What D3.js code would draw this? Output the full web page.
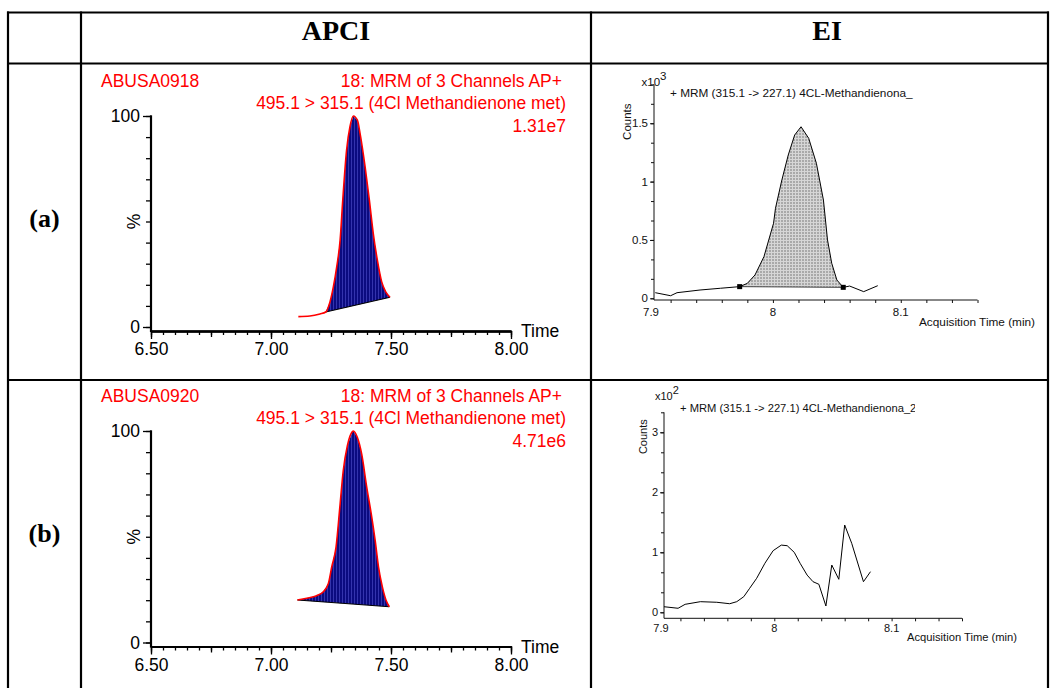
<!DOCTYPE html>
<html><head><meta charset="utf-8">
<script src="https://cdn.jsdelivr.net/npm/d3@7"></script>
<style>
body{margin:0;background:#fff}
svg{display:block}
text{font-family:"Liberation Sans",Arial,Helvetica,sans-serif}
</style>
</head><body>
<svg id="fig" width="1050" height="688"></svg>
<script>
// ---- APCI (MassLynx) traces: retention time (min) vs relative intensity (%) ----
const apciTimeA = [7.114,7.162,7.204,7.228,7.246,7.260,7.274,7.288,7.299,7.315,7.329,7.343,7.360,7.371,7.392,7.410,7.426,7.443,7.461,7.478,7.496];
const apciPctA  = [4.9,5.2,6.2,7.1,12,19.1,28.6,41.2,60.2,83.9,94.9,100,98,91.8,76,60,44.4,31.8,21.5,16.7,14.1];
const apciPeakA = [7.228, 7.496];

const apciTimeB = [7.110,7.149,7.190,7.218,7.239,7.253,7.271,7.288,7.301,7.318,7.339,7.343,7.360,7.378,7.399,7.420,7.434,7.448,7.464,7.479,7.493];
const apciPctB  = [20.1,20.9,22.1,24,27.9,35.7,45.1,65.5,81.2,92.9,99.7,100,96.9,89,73.3,59.2,48.3,35.7,26.3,20.1,16.9];
const apciPeakB = [7.110, 7.493];

const apciTimeTicks = [6.5, 7.0, 7.5, 8.0];
const apciPctTicks  = [0, 100];

const apciSampleA = "ABUSA0918", apciSampleB = "ABUSA0920";
const apciFunction = "18: MRM of 3 Channels AP+";
const apciTransition = "495.1 > 315.1 (4Cl Methandienone met)";
const apciMaxA = "1.31e7", apciMaxB = "4.71e6";

// ---- EI (MassHunter) traces: acquisition time (min) vs counts ----
const eiTimeA  = [7.908,7.920,7.925,7.943,7.959,7.974,7.980,7.986,7.993,8.0005,8.002,8.007,8.012,8.017,8.022,8.028,8.034,8.0395,8.0427,8.046,8.050,8.055,8.060,8.071,8.082];
const eiCountA = [0.048,0.022,0.048,0.071,0.086,0.100,0.128,0.200,0.357,0.643,0.771,1.014,1.228,1.399,1.470,1.371,1.157,0.842,0.500,0.300,0.157,0.094,0.105,0.057,0.108];
const eiPeakA  = [7.974, 8.055];
const eiYTicksA = [0, 0.5, 1, 1.5];

const eiTimeB  = [7.906,7.918,7.924,7.937,7.951,7.962,7.968,7.974,7.979,7.985,7.992,7.999,8.006,8.011,8.017,8.022,8.028,8.033,8.038,8.044,8.049,8.055,8.060,8.066,8.076,8.082];
const eiCountB = [0.093,0.067,0.133,0.177,0.167,0.143,0.177,0.260,0.400,0.567,0.817,1.027,1.120,1.110,1.000,0.817,0.620,0.510,0.467,0.105,0.788,0.550,1.455,1.150,0.510,0.677];
const eiYTicksB = [0, 1, 2, 3];

const eiTimeTicks = [7.9, 8, 8.1];
const eiTitleA = "+ MRM (315.1 -> 227.1) 4CL-Methandienona_";
const eiTitleB = "+ MRM (315.1 -> 227.1) 4CL-Methandienona_23";

const svg = d3.select("#fig");
const defs = svg.append("defs");

// navy hatch for integrated APCI peaks
const hatch = defs.append("pattern").attr("id","navyHatch").attr("patternUnits","userSpaceOnUse")
  .attr("width",3).attr("height",4);
hatch.append("rect").attr("width",3).attr("height",4).attr("fill","#0b0b80");
hatch.append("rect").attr("width",1).attr("height",4).attr("fill","#3434ad");

// grey mesh for integrated EI peak
const mesh = defs.append("pattern").attr("id","greyMesh").attr("patternUnits","userSpaceOnUse")
  .attr("width",3).attr("height",3);
mesh.append("rect").attr("width",3).attr("height",3).attr("fill","#a9a9a9");
mesh.append("rect").attr("width",3).attr("height",1).attr("fill","#d6d6d6");
mesh.append("rect").attr("width",1).attr("height",3).attr("fill","#d6d6d6");

// ---- table frame ----
const colX = [8, 81, 591, 1048];
const rowY = [12.5, 63.5, 380];
const frame = svg.append("g").attr("stroke","#000").attr("stroke-width",2.2);
rowY.forEach(yy => frame.append("line").attr("x1",7).attr("x2",1049).attr("y1",yy).attr("y2",yy));
colX.forEach(xx => frame.append("line").attr("x1",xx).attr("x2",xx).attr("y1",11.4).attr("y2",688));

const serif = '"Liberation Serif","Times New Roman",serif';
svg.append("text").attr("x",336).attr("y",39.5).attr("text-anchor","middle")
  .style("font-family",serif).style("font-weight","bold").style("font-size","28px").text("APCI");
svg.append("text").attr("x",827).attr("y",39.5).attr("text-anchor","middle")
  .style("font-family",serif).style("font-weight","bold").style("font-size","28px").text("EI");
svg.append("text").attr("x",44.5).attr("y",227).attr("text-anchor","middle")
  .style("font-family",serif).style("font-weight","bold").style("font-size","26px").text("(a)");
svg.append("text").attr("x",44.5).attr("y",542).attr("text-anchor","middle")
  .style("font-family",serif).style("font-weight","bold").style("font-size","26px").text("(b)");

// ---- APCI panel ----
function apciPanel(o) {
  const g = svg.append("g");
  const x = d3.scaleLinear().domain([6.5, 8.0]).range([151, 511]);
  const y = d3.scaleLinear().domain([0, 100]).range([o.y0, o.y100]);
  const axisY = o.y0 + 4;
  const fs = "17.5px";

  // x axis: minor, quarter and labelled ticks
  const xg = g.append("g").attr("transform",`translate(0,${axisY})`);
  xg.append("g").call(d3.axisBottom(x).tickValues(d3.range(0,31).map(i => 6.5 + i*0.05)).tickSize(4).tickFormat("").tickSizeOuter(0));
  xg.append("g").call(d3.axisBottom(x).tickValues(d3.range(0,7).map(i => 6.5 + i*0.25)).tickSize(6).tickFormat("").tickSizeOuter(0));
  xg.append("g").call(d3.axisBottom(x).tickValues(apciTimeTicks).tickSize(8).tickPadding(4).tickFormat(d3.format(".2f")).tickSizeOuter(0));
  xg.selectAll("path.domain").attr("stroke","#000").attr("stroke-width",2.2);
  xg.selectAll("line").attr("stroke","#000").attr("stroke-width",1.3);
  xg.selectAll("text").style("font-size",fs).style("font-family",'"Liberation Sans",Arial,sans-serif').attr("fill","#000");
  g.append("text").attr("x",521).attr("y",axisY+6).style("font-size",fs).text("Time");

  // y axis
  const yg = g.append("g").attr("transform","translate(151,0)");
  yg.append("g").call(d3.axisLeft(y).tickValues(d3.range(0,11).map(i => i*10)).tickSize(5).tickFormat("").tickSizeOuter(0));
  yg.append("g").call(d3.axisLeft(y).tickValues(apciPctTicks).tickSize(8).tickPadding(3).tickFormat(d3.format("d")).tickSizeOuter(0));
  yg.selectAll("path.domain").remove();
  yg.selectAll("line").attr("stroke","#000").attr("stroke-width",1.3);
  yg.selectAll("text").style("font-size",fs).style("font-family",'"Liberation Sans",Arial,sans-serif').attr("fill","#000");
  g.append("line").attr("x1",151).attr("x2",151).attr("y1",y(100)-0.7).attr("y2",axisY+1.1)
    .attr("stroke","#000").attr("stroke-width",2.2);
  g.append("text").attr("transform",`translate(134,${y(50)}) rotate(-90)`).attr("text-anchor","middle")
    .attr("dy","0.35em").style("font-size",fs).text("%");

  // integrated area between the trace and its baseline
  const pts = o.t.map((t,i) => ({t, v:o.v[i]}));
  const [ta, tb] = o.peak;
  const va = pts.find(p => p.t === ta).v, vb = pts.find(p => p.t === tb).v;
  const base = t => va + (vb - va) * (t - ta) / (tb - ta);
  const inPeak = pts.filter(p => p.t >= ta && p.t <= tb);
  g.append("path").datum(inPeak)
    .attr("d", d3.area().x(p => x(p.t)).y0(p => y(base(p.t))).y1(p => y(p.v)))
    .attr("fill","url(#navyHatch)");
  g.append("line").attr("x1",x(ta)).attr("y1",y(va)).attr("x2",x(tb)).attr("y2",y(vb))
    .attr("stroke","#000").attr("stroke-width",1.2);
  g.append("path").datum(pts)
    .attr("d", d3.line().x(p => x(p.t)).y(p => y(p.v)).curve(d3.curveMonotoneX))
    .attr("fill","none").attr("stroke","#ff0000").attr("stroke-width",1.6);

  // header in red
  const red = g.append("g").attr("fill","#ff0000").style("font-size",fs);
  red.append("text").attr("x",101).attr("y",o.top+23).text(o.sample);
  red.append("text").attr("x",562).attr("y",o.top+23).attr("text-anchor","end").text(apciFunction);
  red.append("text").attr("x",566).attr("y",o.top+45.5).attr("text-anchor","end").text(apciTransition);
  red.append("text").attr("x",566).attr("y",o.top+68.5).attr("text-anchor","end").text(o.max);
}

apciPanel({top:63.5, y0:327, y100:116, t:apciTimeA, v:apciPctA, peak:apciPeakA, sample:apciSampleA, max:apciMaxA});
apciPanel({top:378.5, y0:642.5, y100:431, t:apciTimeB, v:apciPctB, peak:apciPeakB, sample:apciSampleB, max:apciMaxB});

// ---- EI panel ----
function eiPanel(o) {
  const g = svg.append("g");
  const x = d3.scaleLinear().domain(o.xDomain).range(o.xRange);
  const y = d3.scaleLinear().domain([0, o.yMax]).range([o.yZero, o.yTopPx]);
  const x0 = o.xRange[0], x1 = o.xRange[1];
  const fs = o.fs + "px";
  const ink = "#111";

  // axes lines
  g.append("line").attr("x1",x0).attr("x2",x0).attr("y1",o.yTopPx).attr("y2",o.axisY).attr("stroke",ink).attr("stroke-width",1);
  g.append("line").attr("x1",x0).attr("x2",x1).attr("y1",o.axisY).attr("y2",o.axisY).attr("stroke",ink).attr("stroke-width",1);

  // y ticks: majors labelled, two minors between
  const minorStep = o.yStep / 3;
  const yMinor = d3.range(0, Math.round(o.yMax / minorStep) + 1).map(i => i * minorStep);
  const yg = g.append("g").attr("transform",`translate(${x0},0)`);
  yg.append("g").call(d3.axisLeft(y).tickValues(yMinor).tickSize(3).tickFormat("").tickSizeOuter(0));
  yg.append("g").call(d3.axisLeft(y).tickValues(o.yTicks).tickSize(4).tickPadding(2).tickFormat(d3.format("~g")).tickSizeOuter(0));
  yg.selectAll("path.domain").remove();
  yg.selectAll("line").attr("stroke",ink);
  yg.selectAll("text").style("font-size",fs).style("font-family",'"Liberation Sans",Arial,sans-serif').attr("fill",ink);

  // x ticks every 0.02 min, labels on tenths
  const xMinor = d3.range(0, 13).map(i => 7.92 + i * 0.02).filter(t => x(t) <= x1 + 0.5);
  const xg = g.append("g").attr("transform",`translate(0,${o.axisY})`);
  xg.append("g").call(d3.axisBottom(x).tickValues(xMinor).tickSize(3).tickFormat("").tickSizeOuter(0));
  xg.selectAll("path.domain").remove();
  xg.selectAll("line").attr("stroke",ink);
  eiTimeTicks.forEach(t => {
    const px = Math.max(x(t), x0 - 3);
    g.append("text").attr("x",px).attr("y",o.axisY + o.labelDy).attr("text-anchor","middle")
      .style("font-size",fs).attr("fill",ink).text(d3.format("~g")(t));
  });
  g.append("text").attr("x",o.xTitle[0]).attr("y",o.xTitle[1]).style("font-size",o.titleFs+"px").attr("fill",ink)
    .text("Acquisition Time (min)");
  g.append("text").attr("transform",`translate(${o.counts[0]},${o.counts[1]}) rotate(-90)`).attr("text-anchor","middle")
    .attr("dy","0.35em").style("font-size",fs).attr("fill",ink).text("Counts");
  const mult = g.append("text").attr("x",o.mult[0]).attr("y",o.mult[1]).style("font-size",fs).attr("fill",ink);
  mult.append("tspan").text("x10");
  mult.append("tspan").attr("dy",-6).style("font-size",(o.fs)+"px").text(o.exp);

  // title, clipped at the plot's label box
  const clipId = "clip" + o.exp;
  defs.append("clipPath").attr("id",clipId).append("rect")
    .attr("x",o.title[0]-2).attr("y",o.title[1]-14).attr("width",o.titleClip - o.title[0] + 2).attr("height",20);
  g.append("text").attr("x",o.title[0]).attr("y",o.title[1]).attr("clip-path",`url(#${clipId})`)
    .style("font-size",o.titleFs+"px").attr("fill",ink).text(o.titleText);

  const pts = o.t.map((t,i) => ({t, v:o.v[i]}));
  if (o.peak) {
    const [ta, tb] = o.peak;
    const pa = pts.find(p => p.t === ta), pb = pts.find(p => p.t === tb);
    const base = t => pa.v + (pb.v - pa.v) * (t - ta) / (tb - ta);
    const inPeak = pts.filter(p => p.t >= ta && p.t <= tb);
    g.append("path").datum(inPeak)
      .attr("d", d3.area().x(p => x(p.t)).y0(p => y(base(p.t))).y1(p => y(p.v)))
      .attr("fill","url(#greyMesh)");
    g.append("line").attr("x1",x(ta)).attr("y1",y(pa.v)).attr("x2",x(tb)).attr("y2",y(pb.v))
      .attr("stroke","#444").attr("stroke-width",1);
    [pa, pb].forEach(p => g.append("rect").attr("x",x(p.t)-2.5).attr("y",y(p.v)-2.5)
      .attr("width",5).attr("height",5).attr("fill","#000"));
  }
  g.append("path").datum(pts)
    .attr("d", d3.line().x(p => x(p.t)).y(p => y(p.v)).curve(d3.curveLinear))
    .attr("fill","none").attr("stroke","#000").attr("stroke-width",1);
}

eiPanel({
  xDomain:[7.907, 8.16], xRange:[654, 977.5], yMax:11/6, yStep:0.5, yZero:298.3, yTopPx:298.3 - 116.7*11/6,
  axisY:300, yTicks:eiYTicksA, t:eiTimeA, v:eiCountA, peak:eiPeakA,
  fs:11.5, titleFs:11.8, labelDy:16, xTitle:[919,326], counts:[626.5,121.7], mult:[641.5,85.5], exp:"3",
  title:[670,97], titleText:eiTitleA, titleClip:1000
});
eiPanel({
  xDomain:[7.906, 8.16], xRange:[664, 962], yMax:10/3, yStep:1, yZero:612.3, yTopPx:612.3 - 60*10/3,
  axisY:618.3, yTicks:eiYTicksB, t:eiTimeB, v:eiCountB, peak:null,
  fs:11, titleFs:11.2, labelDy:14, xTitle:[907,641], counts:[643,436.7], mult:[655,400], exp:"2",
  title:[680,412], titleText:eiTitleB, titleClip:915
});
</script>
</body></html>
